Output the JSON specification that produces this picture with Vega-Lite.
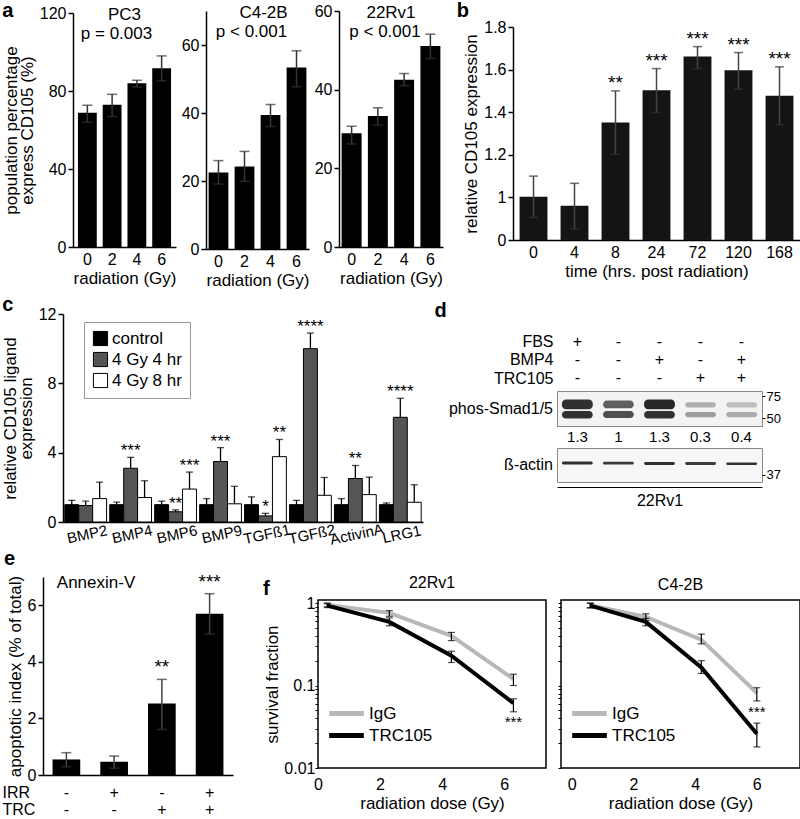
{
"$schema": "https://vega.github.io/schema/vega-lite/v6.json",
"padding": {"left": 1, "top": 1, "right": 1, "bottom": 0},
"config": {
  "font": "Liberation Sans",
  "view": {"stroke": null},
  "axis": {"labelFont": "Liberation Sans", "titleFont": "Liberation Sans", "labelFontSize": 16, "titleFontSize": 17, "titleFontWeight": "normal", "labelColor": "#000", "titleColor": "#000", "domainColor": "#000", "tickColor": "#000", "domainWidth": 1.5, "tickWidth": 1.5, "grid": false, "labelOverlap": false, "labelFlush": false, "titleLineHeight": 16},
  "title": {"font": "Liberation Sans", "fontSize": 20, "fontWeight": "bold", "anchor": "start", "color": "#000", "frame": "bounds"},
  "legend": {"labelFont": "Liberation Sans", "labelFontSize": 17, "labelColor": "#000"},
  "text": {"font": "Liberation Sans", "color": "#000"}
},
"datasets": {
  "panelA": [
    {"line": "PC3", "dose": "0", "value": 68.9, "lo": 64.0, "hi": 72.7},
    {"line": "PC3", "dose": "2", "value": 72.9, "lo": 66.9, "hi": 78.3},
    {"line": "PC3", "dose": "4", "value": 84.0, "lo": 82.0, "hi": 85.5},
    {"line": "PC3", "dose": "6", "value": 91.7, "lo": 85.2, "hi": 98.0},
    {"line": "C4-2B", "dose": "0", "value": 22.5, "lo": 19.1, "hi": 26.0},
    {"line": "C4-2B", "dose": "2", "value": 24.3, "lo": 19.9, "hi": 28.7},
    {"line": "C4-2B", "dose": "4", "value": 39.4, "lo": 36.0, "hi": 42.5},
    {"line": "C4-2B", "dose": "6", "value": 53.4, "lo": 47.7, "hi": 58.3},
    {"line": "22Rv1", "dose": "0", "value": 28.9, "lo": 26.2, "hi": 30.7},
    {"line": "22Rv1", "dose": "2", "value": 33.3, "lo": 31.0, "hi": 35.4},
    {"line": "22Rv1", "dose": "4", "value": 42.5, "lo": 41.0, "hi": 44.1},
    {"line": "22Rv1", "dose": "6", "value": 51.1, "lo": 47.9, "hi": 54.1}
  ],
  "panelAlabels": [
    {"line": "PC3", "name": "PC3", "p": "p = 0.003"},
    {"line": "C4-2B", "name": "C4-2B", "p": "p < 0.001"},
    {"line": "22Rv1", "name": "22Rv1", "p": "p < 0.001"}
  ],
  "panelB": [
    {"time": "0", "value": 1.003, "lo": 0.906, "hi": 1.10, "sig": ""},
    {"time": "4", "value": 0.961, "lo": 0.852, "hi": 1.066, "sig": ""},
    {"time": "8", "value": 1.352, "lo": 1.203, "hi": 1.50, "sig": "**"},
    {"time": "24", "value": 1.503, "lo": 1.398, "hi": 1.605, "sig": "***"},
    {"time": "72", "value": 1.661, "lo": 1.605, "hi": 1.708, "sig": "***"},
    {"time": "120", "value": 1.597, "lo": 1.508, "hi": 1.68, "sig": "***"},
    {"time": "168", "value": 1.477, "lo": 1.341, "hi": 1.613, "sig": "***"}
  ],
  "panelC": [
    {"ligand": "BMP2", "group": "control", "value": 1.0, "hi": 1.25, "sig": ""},
    {"ligand": "BMP2", "group": "4 Gy 4 hr", "value": 0.95, "hi": 1.2, "sig": ""},
    {"ligand": "BMP2", "group": "4 Gy 8 hr", "value": 1.35, "hi": 2.3, "sig": ""},
    {"ligand": "BMP4", "group": "control", "value": 1.0, "hi": 1.15, "sig": ""},
    {"ligand": "BMP4", "group": "4 Gy 4 hr", "value": 3.1, "hi": 3.73, "sig": "***"},
    {"ligand": "BMP4", "group": "4 Gy 8 hr", "value": 1.41, "hi": 2.38, "sig": ""},
    {"ligand": "BMP6", "group": "control", "value": 1.0, "hi": 1.2, "sig": ""},
    {"ligand": "BMP6", "group": "4 Gy 4 hr", "value": 0.59, "hi": 0.7, "sig": "**"},
    {"ligand": "BMP6", "group": "4 Gy 8 hr", "value": 1.9, "hi": 2.88, "sig": "***"},
    {"ligand": "BMP9", "group": "control", "value": 1.0, "hi": 1.35, "sig": ""},
    {"ligand": "BMP9", "group": "4 Gy 4 hr", "value": 3.49, "hi": 4.29, "sig": "***"},
    {"ligand": "BMP9", "group": "4 Gy 8 hr", "value": 1.05, "hi": 2.06, "sig": ""},
    {"ligand": "TGFß1", "group": "control", "value": 1.0, "hi": 1.45, "sig": ""},
    {"ligand": "TGFß1", "group": "4 Gy 4 hr", "value": 0.35, "hi": 0.5, "sig": "*"},
    {"ligand": "TGFß1", "group": "4 Gy 8 hr", "value": 3.77, "hi": 4.76, "sig": "**"},
    {"ligand": "TGFß2", "group": "control", "value": 1.0, "hi": 1.25, "sig": ""},
    {"ligand": "TGFß2", "group": "4 Gy 4 hr", "value": 10.0, "hi": 10.9, "sig": "****"},
    {"ligand": "TGFß2", "group": "4 Gy 8 hr", "value": 1.54, "hi": 2.57, "sig": ""},
    {"ligand": "ActivinA", "group": "control", "value": 1.0, "hi": 1.35, "sig": ""},
    {"ligand": "ActivinA", "group": "4 Gy 4 hr", "value": 2.51, "hi": 3.26, "sig": "**"},
    {"ligand": "ActivinA", "group": "4 Gy 8 hr", "value": 1.58, "hi": 2.59, "sig": ""},
    {"ligand": "LRG1", "group": "control", "value": 1.0, "hi": 1.1, "sig": ""},
    {"ligand": "LRG1", "group": "4 Gy 4 hr", "value": 6.04, "hi": 7.14, "sig": "****"},
    {"ligand": "LRG1", "group": "4 Gy 8 hr", "value": 1.14, "hi": 2.15, "sig": ""}
  ],
  "panelDsigns": [
    {"lane": "1", "treatment": "FBS", "sign": "+"},
    {"lane": "2", "treatment": "FBS", "sign": "-"},
    {"lane": "3", "treatment": "FBS", "sign": "-"},
    {"lane": "4", "treatment": "FBS", "sign": "-"},
    {"lane": "5", "treatment": "FBS", "sign": "-"},
    {"lane": "1", "treatment": "BMP4", "sign": "-"},
    {"lane": "2", "treatment": "BMP4", "sign": "-"},
    {"lane": "3", "treatment": "BMP4", "sign": "+"},
    {"lane": "4", "treatment": "BMP4", "sign": "-"},
    {"lane": "5", "treatment": "BMP4", "sign": "+"},
    {"lane": "1", "treatment": "TRC105", "sign": "-"},
    {"lane": "2", "treatment": "TRC105", "sign": "-"},
    {"lane": "3", "treatment": "TRC105", "sign": "-"},
    {"lane": "4", "treatment": "TRC105", "sign": "+"},
    {"lane": "5", "treatment": "TRC105", "sign": "+"}
  ],
  "panelDquant": [
    {"lane": "1", "ratio": 1.3},
    {"lane": "2", "ratio": 1},
    {"lane": "3", "ratio": 1.3},
    {"lane": "4", "ratio": 0.3},
    {"lane": "5", "ratio": 0.4}
  ],
  "panelDbands": [
    {"blot": "phos", "lane": "1", "top": 71, "bottom": 60, "intensity": 0.95},
    {"blot": "phos", "lane": "1", "top": 58, "bottom": 49.5, "intensity": 0.95},
    {"blot": "phos", "lane": "2", "top": 70, "bottom": 61, "intensity": 0.72},
    {"blot": "phos", "lane": "2", "top": 58, "bottom": 50, "intensity": 0.8},
    {"blot": "phos", "lane": "3", "top": 71, "bottom": 60, "intensity": 1.0},
    {"blot": "phos", "lane": "3", "top": 58, "bottom": 49.5, "intensity": 0.95},
    {"blot": "phos", "lane": "4", "top": 68, "bottom": 62, "intensity": 0.32},
    {"blot": "phos", "lane": "4", "top": 57, "bottom": 51, "intensity": 0.42},
    {"blot": "phos", "lane": "5", "top": 68, "bottom": 62, "intensity": 0.25},
    {"blot": "phos", "lane": "5", "top": 57, "bottom": 51, "intensity": 0.35},
    {"blot": "actin", "lane": "1", "top": 42.4, "bottom": 41.2, "intensity": 0.95},
    {"blot": "actin", "lane": "2", "top": 42.3, "bottom": 41.2, "intensity": 0.9},
    {"blot": "actin", "lane": "3", "top": 42.2, "bottom": 41.0, "intensity": 0.95},
    {"blot": "actin", "lane": "4", "top": 42.2, "bottom": 41.0, "intensity": 0.9},
    {"blot": "actin", "lane": "5", "top": 42.0, "bottom": 41.0, "intensity": 0.95}
  ],
  "panelE": [
    {"cond": "-/-", "value": 0.55, "lo": 0.29, "hi": 0.79, "sig": ""},
    {"cond": "+/-", "value": 0.47, "lo": 0.24, "hi": 0.67, "sig": ""},
    {"cond": "-/+", "value": 2.53, "lo": 1.61, "hi": 3.38, "sig": "**"},
    {"cond": "+/+", "value": 5.7, "lo": 4.98, "hi": 6.41, "sig": "***"}
  ],
  "panelF": [
    {"cell": "22Rv1", "treatment": "IgG", "dose": 0.3, "value": 0.95, "lo": 0.9, "hi": 1.0, "sig": ""},
    {"cell": "22Rv1", "treatment": "IgG", "dose": 2.3, "value": 0.76, "lo": 0.69, "hi": 0.81, "sig": ""},
    {"cell": "22Rv1", "treatment": "IgG", "dose": 4.3, "value": 0.40, "lo": 0.35, "hi": 0.44, "sig": ""},
    {"cell": "22Rv1", "treatment": "IgG", "dose": 6.3, "value": 0.12, "lo": 0.10, "hi": 0.137, "sig": ""},
    {"cell": "22Rv1", "treatment": "TRC105", "dose": 0.3, "value": 0.93, "lo": 0.88, "hi": 0.98, "sig": ""},
    {"cell": "22Rv1", "treatment": "TRC105", "dose": 2.3, "value": 0.59, "lo": 0.53, "hi": 0.66, "sig": ""},
    {"cell": "22Rv1", "treatment": "TRC105", "dose": 4.3, "value": 0.23, "lo": 0.19, "hi": 0.26, "sig": ""},
    {"cell": "22Rv1", "treatment": "TRC105", "dose": 6.3, "value": 0.061, "lo": 0.048, "hi": 0.069, "sig": "***"},
    {"cell": "C4-2B", "treatment": "IgG", "dose": 0.6, "value": 0.94, "lo": 0.88, "hi": 1.0, "sig": ""},
    {"cell": "C4-2B", "treatment": "IgG", "dose": 2.4, "value": 0.68, "lo": 0.61, "hi": 0.74, "sig": ""},
    {"cell": "C4-2B", "treatment": "IgG", "dose": 4.2, "value": 0.36, "lo": 0.32, "hi": 0.42, "sig": ""},
    {"cell": "C4-2B", "treatment": "IgG", "dose": 6.0, "value": 0.081, "lo": 0.065, "hi": 0.094, "sig": ""},
    {"cell": "C4-2B", "treatment": "TRC105", "dose": 0.6, "value": 0.93, "lo": 0.87, "hi": 0.99, "sig": ""},
    {"cell": "C4-2B", "treatment": "TRC105", "dose": 2.4, "value": 0.59, "lo": 0.53, "hi": 0.65, "sig": ""},
    {"cell": "C4-2B", "treatment": "TRC105", "dose": 4.2, "value": 0.166, "lo": 0.14, "hi": 0.2, "sig": ""},
    {"cell": "C4-2B", "treatment": "TRC105", "dose": 6.0, "value": 0.026, "lo": 0.018, "hi": 0.035, "sig": "***"}
  ]
},
"spacing": 7,
"resolve": {"scale": {"fill": "independent", "color": "independent", "opacity": "independent"}, "legend": {"fill": "independent", "color": "independent", "opacity": "independent"}},
"vconcat": [
  {
    "spacing": 13,
    "hconcat": [
      {
        "spacing": 5,
        "hconcat": [
          {
            "width": 103, "height": 220,
            "title": {"text": "a", "offset": -16, "dx": 0},
            "data": {"name": "panelA"},
            "transform": [{"filter": "datum.line === 'PC3'"}],
            "layer": [
              {"mark": {"type": "bar", "color": "#000"},
               "encoding": {
                 "x": {"field": "dose", "type": "ordinal", "title": "radiation (Gy)", "scale": {"paddingInner": 0.24, "paddingOuter": 0.2}, "axis": {"labelAngle": 0, "ticks": false, "labelPadding": 4, "titlePadding": 3}},
                 "y": {"field": "value", "type": "quantitative", "scale": {"domain": [0, 120], "nice": false, "range": [220, -14]}, "axis": {"values": [0, 20, 40, 60, 80, 100, 120], "tickSize": 5, "labelPadding": 2, "title": ["population percentage", "express CD105 (%)"], "titlePadding": 3}}}},
              {"mark": {"type": "rule", "color": "#333", "strokeWidth": 1.5},
               "encoding": {"x": {"field": "dose", "type": "ordinal"}, "y": {"field": "lo", "type": "quantitative"}, "y2": {"field": "hi"}}},
              {"mark": {"type": "tick", "orient": "horizontal", "color": "#333", "size": 10, "thickness": 1.5},
               "encoding": {"x": {"field": "dose", "type": "ordinal"}, "y": {"field": "lo", "type": "quantitative"}}},
              {"mark": {"type": "tick", "orient": "horizontal", "color": "#333", "size": 10, "thickness": 1.5},
               "encoding": {"x": {"field": "dose", "type": "ordinal"}, "y": {"field": "hi", "type": "quantitative"}}},
              {"data": {"name": "panelAlabels"}, "transform": [{"filter": "datum.line === 'PC3'"}],
               "mark": {"type": "text", "fontSize": 17, "baseline": "middle"},
               "encoding": {"y": {"datum": 119}, "text": {"field": "name"}}},
              {"data": {"name": "panelAlabels"}, "transform": [{"filter": "datum.line === 'PC3'"}],
               "mark": {"type": "text", "fontSize": 17, "baseline": "middle", "dx": -8},
               "encoding": {"y": {"datum": 109.3}, "text": {"field": "p"}}}
            ]
          },
          {
            "width": 103, "height": 222,
            "data": {"name": "panelA"},
            "transform": [{"filter": "datum.line === 'C4-2B'"}],
            "layer": [
              {"mark": {"type": "bar", "color": "#000"},
               "encoding": {
                 "x": {"field": "dose", "type": "ordinal", "title": "radiation (Gy)", "scale": {"paddingInner": 0.24, "paddingOuter": 0.1}, "axis": {"labelAngle": 0, "ticks": false, "labelPadding": 4, "titlePadding": 3}},
                 "y": {"field": "value", "type": "quantitative", "scale": {"domain": [0, 70], "nice": false, "range": [222, -16]}, "axis": {"values": [0, 10, 20, 30, 40, 50, 60, 70], "labelExpr": "datum.value % 20 == 0 && datum.value <= 60 ? datum.label : ''", "tickSize": 5, "labelPadding": 2, "title": null}}}},
              {"mark": {"type": "rule", "color": "#333", "strokeWidth": 1.5},
               "encoding": {"x": {"field": "dose", "type": "ordinal"}, "y": {"field": "lo", "type": "quantitative"}, "y2": {"field": "hi"}}},
              {"mark": {"type": "tick", "orient": "horizontal", "color": "#333", "size": 10, "thickness": 1.5},
               "encoding": {"x": {"field": "dose", "type": "ordinal"}, "y": {"field": "lo", "type": "quantitative"}}},
              {"mark": {"type": "tick", "orient": "horizontal", "color": "#333", "size": 10, "thickness": 1.5},
               "encoding": {"x": {"field": "dose", "type": "ordinal"}, "y": {"field": "hi", "type": "quantitative"}}},
              {"data": {"name": "panelAlabels"}, "transform": [{"filter": "datum.line === 'C4-2B'"}],
               "mark": {"type": "text", "fontSize": 17, "baseline": "middle", "dx": 6},
               "encoding": {"y": {"datum": 69.4}, "text": {"field": "name"}}},
              {"data": {"name": "panelAlabels"}, "transform": [{"filter": "datum.line === 'C4-2B'"}],
               "mark": {"type": "text", "fontSize": 17, "baseline": "middle", "dx": -6},
               "encoding": {"y": {"datum": 63.8}, "text": {"field": "p"}}}
            ]
          },
          {
            "width": 104, "height": 220,
            "data": {"name": "panelA"},
            "transform": [{"filter": "datum.line === '22Rv1'"}],
            "layer": [
              {"mark": {"type": "bar", "color": "#000"},
               "encoding": {
                 "x": {"field": "dose", "type": "ordinal", "title": "radiation (Gy)", "scale": {"paddingInner": 0.24, "paddingOuter": 0.1}, "axis": {"labelAngle": 0, "ticks": false, "labelPadding": 4, "titlePadding": 3}},
                 "y": {"field": "value", "type": "quantitative", "scale": {"domain": [0, 60], "nice": false, "range": [220, -16]}, "axis": {"values": [0, 10, 20, 30, 40, 50, 60], "labelExpr": "datum.value % 20 == 0 ? datum.label : ''", "tickSize": 5, "labelPadding": 2, "title": null}}}},
              {"mark": {"type": "rule", "color": "#333", "strokeWidth": 1.5},
               "encoding": {"x": {"field": "dose", "type": "ordinal"}, "y": {"field": "lo", "type": "quantitative"}, "y2": {"field": "hi"}}},
              {"mark": {"type": "tick", "orient": "horizontal", "color": "#333", "size": 10, "thickness": 1.5},
               "encoding": {"x": {"field": "dose", "type": "ordinal"}, "y": {"field": "lo", "type": "quantitative"}}},
              {"mark": {"type": "tick", "orient": "horizontal", "color": "#333", "size": 10, "thickness": 1.5},
               "encoding": {"x": {"field": "dose", "type": "ordinal"}, "y": {"field": "hi", "type": "quantitative"}}},
              {"data": {"name": "panelAlabels"}, "transform": [{"filter": "datum.line === '22Rv1'"}],
               "mark": {"type": "text", "fontSize": 17, "baseline": "middle"},
               "encoding": {"y": {"datum": 59.5}, "text": {"field": "name"}}},
              {"data": {"name": "panelAlabels"}, "transform": [{"filter": "datum.line === '22Rv1'"}],
               "mark": {"type": "text", "fontSize": 17, "baseline": "middle", "dx": -6},
               "encoding": {"y": {"datum": 54.6}, "text": {"field": "p"}}}
            ]
          }
        ]
      },
      {
        "width": 287, "height": 213,
        "title": {"text": "b", "offset": -2, "dx": -6},
        "data": {"name": "panelB"},
        "encoding": {"x": {"field": "time", "type": "ordinal", "sort": ["0", "4", "8", "24", "72", "120", "168"], "title": "time (hrs. post radiation)", "scale": {"paddingInner": 0.32, "paddingOuter": 0.16}, "axis": {"labelAngle": 0, "ticks": false, "labelPadding": 4, "titlePadding": 3}}},
        "layer": [
          {"mark": {"type": "bar", "color": "#141414"},
           "encoding": {
             "y": {"field": "value", "type": "quantitative", "scale": {"domain": [0.8, 1.8], "zero": false, "nice": false}, "axis": {"values": [0.8, 0.9, 1, 1.1, 1.2, 1.3, 1.4, 1.5, 1.6, 1.7, 1.8], "labelExpr": "datum.value < 0.85 ? '0' : (round(datum.value*10) % 2 == 0 ? format(datum.value, '~g') : '')", "tickSize": 5, "labelPadding": 2, "title": "relative CD105 expression", "titlePadding": 3}},
             "y2": {"datum": 0.8}}},
          {"mark": {"type": "rule", "color": "#444", "strokeWidth": 1.5},
           "encoding": {"y": {"field": "lo", "type": "quantitative"}, "y2": {"field": "hi"}}},
          {"mark": {"type": "tick", "orient": "horizontal", "color": "#333", "size": 9, "thickness": 1.5},
           "encoding": {"y": {"field": "lo", "type": "quantitative"}}},
          {"mark": {"type": "tick", "orient": "horizontal", "color": "#333", "size": 9, "thickness": 1.5},
           "encoding": {"y": {"field": "hi", "type": "quantitative"}}},
          {"transform": [{"filter": "datum.sig !== ''"}],
           "mark": {"type": "text", "fontSize": 19, "baseline": "bottom", "dy": 2},
           "encoding": {"y": {"field": "hi", "type": "quantitative"}, "text": {"field": "sig"}}}
        ]
      }
    ]
  },
  {
    "spacing": 0,
    "resolve": {"scale": {"fill": "independent", "color": "independent", "opacity": "independent"}, "legend": {"fill": "independent", "color": "independent", "opacity": "independent"}},
    "vconcat": [
      {
        "spacing": 1,
        "resolve": {"scale": {"fill": "independent", "opacity": "independent"}, "legend": {"fill": "independent", "opacity": "independent"}},
        "hconcat": [
          {
            "width": 350, "height": 208,
            "title": {"text": "c", "offset": -9, "dx": 1},
            "data": {"name": "panelC"},
            "encoding": {
              "x": {"field": "ligand", "type": "nominal", "sort": ["BMP2", "BMP4", "BMP6", "BMP9", "TGFß1", "TGFß2", "ActivinA", "LRG1"], "title": null, "scale": {"paddingInner": 0.07, "paddingOuter": 0.04, "range": [-10, 350]}, "axis": {"labelAngle": -12, "labelAlign": "center", "labelBaseline": "top", "ticks": false, "labelFontSize": 15, "labelPadding": 5}},
              "xOffset": {"field": "group", "type": "nominal", "sort": ["control", "4 Gy 4 hr", "4 Gy 8 hr"]}
            },
            "layer": [
              {"mark": {"type": "bar", "stroke": "#000", "strokeWidth": 1},
               "encoding": {
                 "y": {"field": "value", "type": "quantitative", "scale": {"domain": [0, 12], "nice": false}, "axis": {"values": [0, 2, 4, 6, 8, 10, 12], "labelExpr": "datum.value % 4 == 0 ? datum.label : ''", "tickSize": 5, "labelPadding": 2, "offset": 10, "title": ["relative CD105 ligand", "expression"], "titlePadding": 3}},
                 "fill": {"field": "group", "type": "nominal", "scale": {"domain": ["control", "4 Gy 4 hr", "4 Gy 8 hr"], "range": ["#000000", "#555555", "#ffffff"]},
                          "legend": {"title": null, "orient": "none", "legendX": 11, "legendY": 8, "symbolType": "square", "symbolSize": 200, "symbolStrokeColor": "#000", "symbolStrokeWidth": 1, "labelFontSize": 17, "padding": 8, "strokeColor": "#999", "rowPadding": 2, "labelOffset": 3}}}},
              {"mark": {"type": "rule", "color": "#000", "strokeWidth": 1.3},
               "encoding": {"y": {"field": "value", "type": "quantitative"}, "y2": {"field": "hi"}}},
              {"mark": {"type": "tick", "orient": "horizontal", "color": "#000", "size": 7, "thickness": 1.3},
               "encoding": {"y": {"field": "hi", "type": "quantitative"}}},
              {"transform": [{"filter": "datum.sig !== ''"}],
               "mark": {"type": "text", "fontSize": 17, "baseline": "bottom", "dy": 3},
               "encoding": {"y": {"field": "hi", "type": "quantitative"}, "text": {"field": "sig"}}}
            ]
          },
          {
            "title": {"text": "d", "offset": -7, "dx": -14},
            "spacing": 2,
            "vconcat": [
              {
                "width": 205, "height": 73,
                "data": {"name": "panelDsigns"},
                "mark": {"type": "text", "fontSize": 16},
                "encoding": {
                  "x": {"field": "lane", "type": "ordinal", "axis": null, "scale": {"paddingInner": 0, "paddingOuter": 0}},
                  "y": {"field": "treatment", "type": "nominal", "sort": ["FBS", "BMP4", "TRC105"], "scale": {"type": "point", "padding": 1.03, "align": 0.757}, "axis": {"title": null, "domain": false, "ticks": false, "labelFontSize": 16, "labelPadding": 4}},
                  "text": {"field": "sign"}
                }
              },
              {
                "width": 205, "height": 35,
                "view": {"stroke": "#888", "fill": "#f3f3f3"},
                "title": {"text": "phos-Smad1/5", "orient": "left", "angle": 0, "align": "left", "baseline": "middle", "anchor": "middle", "fontSize": 16, "fontWeight": "normal", "offset": 4, "frame": "group"},
                "data": {"name": "panelDbands"},
                "transform": [{"filter": "datum.blot === 'phos'"}],
                "mark": {"type": "rect", "color": "#1b1b1b", "cornerRadius": 4},
                "encoding": {
                  "x": {"field": "lane", "type": "ordinal", "axis": null, "scale": {"paddingInner": 0.25, "paddingOuter": 0.12}},
                  "y": {"field": "top", "type": "quantitative", "scale": {"domain": [41, 80.7], "nice": false, "zero": false}, "axis": {"orient": "right", "values": [75, 50], "title": null, "domain": false, "tickSize": 3, "tickWidth": 1, "labelFontSize": 13, "labelPadding": 1}},
                  "y2": {"field": "bottom"},
                  "opacity": {"field": "intensity", "type": "quantitative", "scale": {"domain": [0, 1], "range": [0, 0.95]}, "legend": null}
                }
              },
              {
                "width": 205, "height": 13,
                "data": {"name": "panelDquant"},
                "mark": {"type": "text", "fontSize": 15},
                "encoding": {
                  "x": {"field": "lane", "type": "ordinal", "axis": null, "scale": {"paddingInner": 0, "paddingOuter": 0}},
                  "text": {"field": "ratio", "type": "quantitative", "format": "~g"}
                }
              },
              {
                "width": 205, "height": 34,
                "view": {"stroke": "#888", "fill": "#f7f7f7"},
                "title": {"text": "ß-actin", "orient": "left", "angle": 0, "align": "left", "baseline": "middle", "anchor": "middle", "fontSize": 16, "fontWeight": "normal", "offset": 4, "frame": "group"},
                "data": {"name": "panelDbands"},
                "transform": [{"filter": "datum.blot === 'actin'"}],
                "mark": {"type": "rect", "color": "#1b1b1b", "cornerRadius": 2},
                "encoding": {
                  "x": {"field": "lane", "type": "ordinal", "scale": {"paddingInner": 0.25, "paddingOuter": 0.12}, "axis": {"labels": false, "ticks": false, "domain": true, "domainWidth": 1.2, "offset": 5, "title": "22Rv1", "titleFontSize": 16, "titlePadding": 5}},
                  "y": {"field": "top", "type": "quantitative", "scale": {"domain": [34, 48], "nice": false, "zero": false}, "axis": {"orient": "right", "values": [37], "title": null, "domain": false, "tickSize": 3, "tickWidth": 1, "labelFontSize": 13, "labelPadding": 1}},
                  "y2": {"field": "bottom"},
                  "opacity": {"field": "intensity", "type": "quantitative", "scale": {"domain": [0, 1], "range": [0, 0.95]}, "legend": null}
                }
              }
            ]
          }
        ]
      },
      {
        "spacing": 0,
        "resolve": {"scale": {"color": "independent"}, "legend": {"color": "independent"}},
        "hconcat": [
          {
            "width": 160, "height": 175,
            "title": {"text": "e", "offset": 4, "dx": 2},
            "data": {"name": "panelE"},
            "encoding": {"x": {"field": "cond", "type": "nominal", "sort": ["-/-", "+/-", "-/+", "+/+"], "scale": {"paddingInner": 0.42, "paddingOuter": 0.2, "range": [-30, 160]}, "axis": {"labelExpr": "split(datum.label, '/')", "labelAngle": 0, "ticks": false, "labelPadding": 9, "labelBaseline": "top", "labelLineHeight": 17, "labelFontSize": 16, "title": ["IRR", "TRC"], "titleFontSize": 16, "titleAngle": 0, "titleAlign": "left", "titleBaseline": "top", "titleX": -71, "titleY": 9, "titleLineHeight": 17}}},
            "layer": [
              {"mark": {"type": "bar", "color": "#000"},
               "encoding": {"y": {"field": "value", "type": "quantitative", "scale": {"domain": [0, 7], "nice": false, "range": [175, -23]}, "axis": {"values": [0, 1, 2, 3, 4, 5, 6, 7], "labelExpr": "datum.value % 2 == 0 ? datum.label : ''", "tickSize": 5, "labelPadding": 2, "offset": 30, "title": "apoptotic index (% of total)", "titlePadding": 3}}}},
              {"mark": {"type": "rule", "color": "#444", "strokeWidth": 1.5},
               "encoding": {"y": {"field": "lo", "type": "quantitative"}, "y2": {"field": "hi"}}},
              {"mark": {"type": "tick", "orient": "horizontal", "color": "#333", "size": 10, "thickness": 1.5},
               "encoding": {"y": {"field": "lo", "type": "quantitative"}}},
              {"mark": {"type": "tick", "orient": "horizontal", "color": "#333", "size": 10, "thickness": 1.5},
               "encoding": {"y": {"field": "hi", "type": "quantitative"}}},
              {"transform": [{"filter": "datum.sig !== ''"}],
               "mark": {"type": "text", "fontSize": 19, "baseline": "bottom", "dy": -2},
               "encoding": {"y": {"field": "hi", "type": "quantitative"}, "text": {"field": "sig"}}},
              {"data": {"values": [{"label": "Annexin-V"}]},
               "mark": {"type": "text", "fontSize": 17, "baseline": "middle"},
               "encoding": {"x": {"datum": "-/-", "type": "nominal", "bandPosition": 1.57}, "y": {"datum": 6.8}, "text": {"field": "label"}}}
            ]
          },
          {
            "title": {"text": "f", "offset": -25, "dx": 0},
            "spacing": 9,
            "resolve": {"scale": {"color": "independent", "x": "independent", "y": "independent"}, "legend": {"color": "independent"}},
            "hconcat": [
              {
                "width": 228, "height": 168,
                "view": {"stroke": "#000", "strokeWidth": 1.5},
                "title": {"text": "22Rv1", "anchor": "middle", "fontSize": 16, "fontWeight": "normal", "offset": 4, "frame": "group"},
                "data": {"name": "panelF"},
                "transform": [{"filter": "datum.cell === '22Rv1'"}],
                "encoding": {"x": {"field": "dose", "type": "quantitative", "scale": {"domain": [0, 7.35], "nice": false, "zero": false}, "axis": {"values": [0, 2, 4, 6], "tickSize": 0, "domain": false, "labelPadding": 8, "title": "radiation dose (Gy)", "titlePadding": 3}}},
                "layer": [
                  {"mark": {"type": "line", "strokeWidth": 4},
                   "encoding": {
                     "y": {"field": "value", "type": "quantitative", "scale": {"type": "log", "domain": [0.01, 1.088], "nice": false}, "axis": {"values": [0.01, 0.02, 0.03, 0.04, 0.05, 0.06, 0.07, 0.08, 0.09, 0.1, 0.2, 0.3, 0.4, 0.5, 0.6, 0.7, 0.8, 0.9, 1], "labelExpr": "abs(datum.value-0.01) < 1e-9 ? '0.01' : (abs(datum.value-0.1) < 1e-9 ? '0.1' : (abs(datum.value-1) < 1e-9 ? '1' : ''))", "tickSize": 3, "tickWidth": 1, "domain": false, "labelPadding": 0, "title": "survival fraction", "titlePadding": 2}},
                     "color": {"field": "treatment", "type": "nominal", "scale": {"domain": ["IgG", "TRC105"], "range": ["#b8b8b8", "#000000"]},
                               "legend": {"title": null, "orient": "none", "legendX": 17, "legendY": 102, "symbolType": "M-2,0H2", "symbolStrokeWidth": 5, "symbolSize": 300, "labelFontSize": 17, "rowPadding": 0, "labelOffset": 11}}}},
                  {"mark": {"type": "rule", "color": "#000", "strokeWidth": 1.2},
                   "encoding": {"y": {"field": "lo", "type": "quantitative"}, "y2": {"field": "hi"}}},
                  {"mark": {"type": "tick", "orient": "horizontal", "color": "#000", "size": 7, "thickness": 1.2},
                   "encoding": {"y": {"field": "lo", "type": "quantitative"}}},
                  {"mark": {"type": "tick", "orient": "horizontal", "color": "#000", "size": 7, "thickness": 1.2},
                   "encoding": {"y": {"field": "hi", "type": "quantitative"}}},
                  {"transform": [{"filter": "datum.sig !== ''"}],
                   "mark": {"type": "text", "fontSize": 15, "baseline": "top", "dy": 3},
                   "encoding": {"y": {"field": "lo", "type": "quantitative"}, "text": {"field": "sig"}}}
                ]
              },
              {
                "width": 239, "height": 168,
                "view": {"stroke": "#000", "strokeWidth": 1.5},
                "title": {"text": "C4-2B", "anchor": "middle", "fontSize": 16, "fontWeight": "normal", "offset": 4, "frame": "group"},
                "data": {"name": "panelF"},
                "transform": [{"filter": "datum.cell === 'C4-2B'"}],
                "encoding": {"x": {"field": "dose", "type": "quantitative", "scale": {"domain": [-0.35, 7.4], "nice": false, "zero": false}, "axis": {"values": [0, 2, 4, 6], "tickSize": 0, "domain": false, "labelPadding": 8, "title": "radiation dose (Gy)", "titlePadding": 3}}},
                "layer": [
                  {"mark": {"type": "line", "strokeWidth": 4},
                   "encoding": {
                     "y": {"field": "value", "type": "quantitative", "scale": {"type": "log", "domain": [0.01, 1.088], "nice": false}, "axis": {"values": [0.01, 0.02, 0.03, 0.04, 0.05, 0.06, 0.07, 0.08, 0.09, 0.1, 0.2, 0.3, 0.4, 0.5, 0.6, 0.7, 0.8, 0.9, 1], "labels": false, "tickSize": 3, "tickWidth": 1, "domain": false, "title": null}},
                     "color": {"field": "treatment", "type": "nominal", "scale": {"domain": ["IgG", "TRC105"], "range": ["#b8b8b8", "#000000"]},
                               "legend": {"title": null, "orient": "none", "legendX": 17, "legendY": 102, "symbolType": "M-2,0H2", "symbolStrokeWidth": 5, "symbolSize": 300, "labelFontSize": 17, "rowPadding": 0, "labelOffset": 11}}}},
                  {"mark": {"type": "rule", "color": "#000", "strokeWidth": 1.2},
                   "encoding": {"y": {"field": "lo", "type": "quantitative"}, "y2": {"field": "hi"}}},
                  {"mark": {"type": "tick", "orient": "horizontal", "color": "#000", "size": 7, "thickness": 1.2},
                   "encoding": {"y": {"field": "lo", "type": "quantitative"}}},
                  {"mark": {"type": "tick", "orient": "horizontal", "color": "#000", "size": 7, "thickness": 1.2},
                   "encoding": {"y": {"field": "hi", "type": "quantitative"}}},
                  {"transform": [{"filter": "datum.sig !== ''"}],
                   "mark": {"type": "text", "fontSize": 15, "baseline": "bottom", "dy": -3},
                   "encoding": {"y": {"field": "hi", "type": "quantitative"}, "text": {"field": "sig"}}}
                ]
              }
            ]
          }
        ]
      }
    ]
  }
]
}
